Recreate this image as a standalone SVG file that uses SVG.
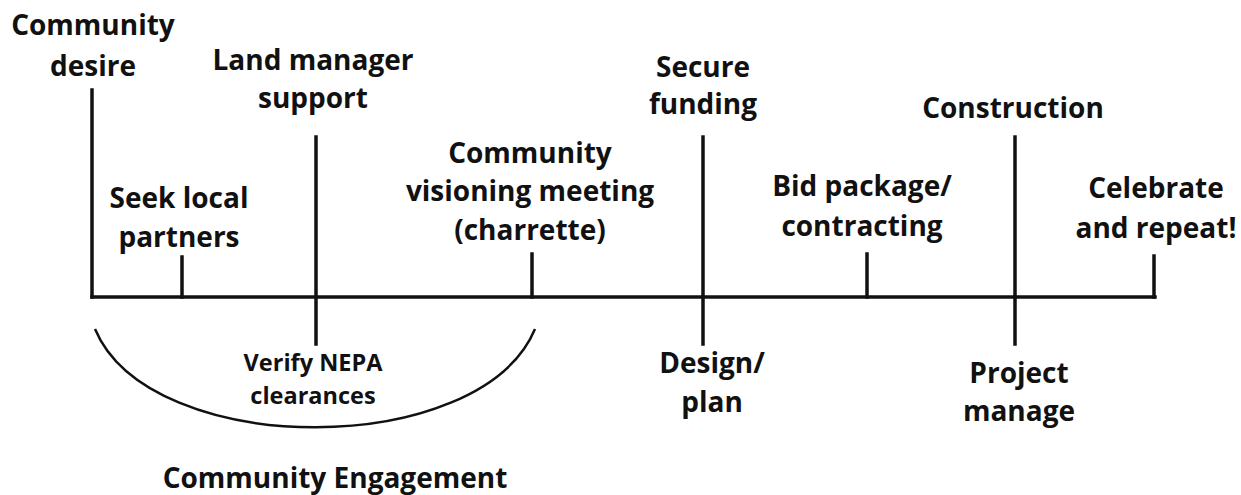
<svg xmlns="http://www.w3.org/2000/svg" width="1241" height="495" viewBox="0 0 1241 495">
<style>
.t{font-family:"Open Sans","Liberation Sans",sans-serif;font-weight:bold;font-size:28px;fill:#111;text-anchor:middle}
.s{font-size:23.5px}
.ln{stroke:#111;stroke-width:3.5;fill:none;stroke-linecap:square}
.arc{stroke:#111;stroke-width:2.5;fill:none}
</style>
<rect width="1241" height="495" fill="#fff"/>
<g id="connectors">
<line class="ln" x1="92" y1="297" x2="1155" y2="297"/>
<line class="ln" x1="92" y1="90" x2="92" y2="297"/>
<line class="ln" x1="182" y1="257" x2="182" y2="297"/>
<line class="ln" x1="316" y1="137" x2="316" y2="344"/>
<line class="ln" x1="532" y1="254" x2="532" y2="297"/>
<line class="ln" x1="703" y1="137" x2="703" y2="344"/>
<line class="ln" x1="867" y1="254" x2="867" y2="297"/>
<line class="ln" x1="1015" y1="137" x2="1015" y2="344"/>
<line class="ln" x1="1154" y1="256" x2="1154" y2="297"/>
<path class="arc" d="M95,329 C150,460 480,460 535,329"/>
</g>
<g id="community-desire"><text class="t" x="93" y="35">Community</text><text class="t" x="93" y="76">desire</text></g>
<g id="seek-local-partners"><text class="t" x="179" y="208">Seek local</text><text class="t" x="179" y="247">partners</text></g>
<g id="land-manager-support"><text class="t" x="313" y="70">Land manager</text><text class="t" x="313" y="108">support</text></g>
<g id="verify-nepa"><text class="t s" x="313" y="371">Verify NEPA</text><text class="t s" x="313" y="404">clearances</text></g>
<g id="community-visioning"><text class="t" x="530" y="163">Community</text><text class="t" x="530" y="201">visioning meeting</text><text class="t" x="530" y="240">(charrette)</text></g>
<g id="secure-funding"><text class="t" x="703" y="77">Secure</text><text class="t" x="703" y="114">funding</text></g>
<g id="design-plan"><text class="t" x="712" y="373">Design/</text><text class="t" x="712" y="412">plan</text></g>
<g id="bid-package"><text class="t" x="862" y="196">Bid package/</text><text class="t" x="862" y="236">contracting</text></g>
<g id="construction"><text class="t" x="1013" y="118">Construction</text></g>
<g id="project-manage"><text class="t" x="1019" y="383">Project</text><text class="t" x="1019" y="421">manage</text></g>
<g id="celebrate"><text class="t" x="1156" y="198">Celebrate</text><text class="t" x="1156" y="238">and repeat!</text></g>
<g id="community-engagement"><text class="t" x="335" y="488">Community Engagement</text></g>
</svg>
